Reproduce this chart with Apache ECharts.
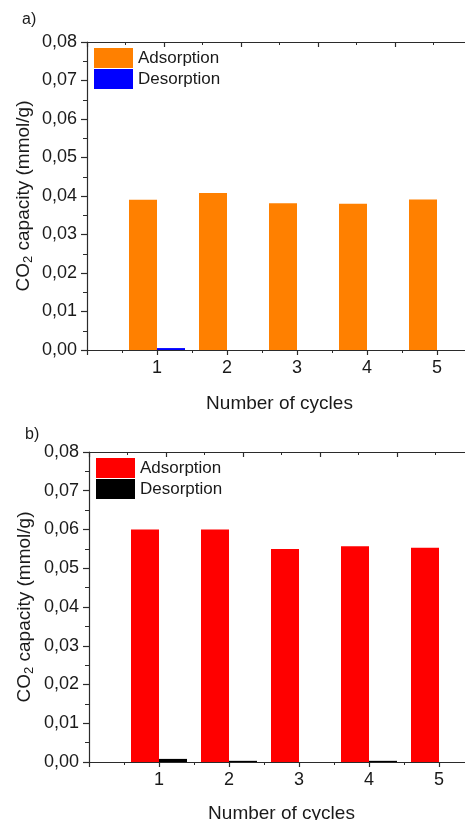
<!DOCTYPE html>
<html>
<head>
<meta charset="utf-8">
<script src="https://cdn.jsdelivr.net/npm/echarts@6/dist/echarts.min.js"></script>
<style>
  html, body { margin: 0; padding: 0; background: #fff; }
  #chart { width: 465px; height: 820px; }
</style>
</head>
<body>
<div id="chart"></div>
<script>
// CO2 capacity over repeated adsorption/desorption cycles, two samples
const cycles = [1, 2, 3, 4, 5];
const adsorptionA = [0.0390, 0.0408, 0.0381, 0.0380, 0.0391];
const desorptionA = [0.0005, 0, 0, 0, 0];
const adsorptionB = [0.0600, 0.0600, 0.0550, 0.0557, 0.0553];
const desorptionB = [0.0008, 0.0003, 0, 0.0003, 0];
const yTicks = [0, 0.08, 0.01];          // min, max, step of the capacity axis
const panelLabels = ['a)', 'b)'];
const seriesNames = ['Adsorption', 'Desorption'];

const FONT = '"Liberation Sans", Arial, sans-serif';
const INK = '#1a1a1a';
const AXIS = '#2b2b2b';

const pairs = (xs, ys) => xs.map((x, i) => [x, ys[i]]);
const commaFmt = v => v.toFixed(2).replace('.', ',');

const panels = [
  { grid: { left: 87, top: 42, width: 385, height: 308 }, colors: ['#FF8000', '#0000FF'], ads: adsorptionA, des: desorptionA, legendTop: 48, legendLeft: 94 },
  { grid: { left: 89, top: 452, width: 385, height: 310 }, colors: ['#FF0000', '#000000'], ads: adsorptionB, des: desorptionB, legendTop: 458, legendLeft: 96 }
];

const option = {
  animation: false,
  backgroundColor: '#fff',
  textStyle: { fontFamily: FONT, color: INK },
  grid: panels.map(p => Object.assign({ containLabel: false, outerBoundsMode: 'none' }, p.grid)),
  legend: panels.map((p, k) => ({
    orient: 'vertical',
    left: p.legendLeft,
    top: p.legendTop,
    itemWidth: 39,
    itemHeight: 20,
    itemGap: 1,
    icon: 'rect',
    data: seriesNames.map(n => n + (k ? '\u200b' : '')),
    formatter: n => n.replace('\u200b', ''),
    textStyle: { fontFamily: FONT, fontSize: 17, color: INK, padding: [0, 0, 0, 0] },
    padding: 0
  })),
  xAxis: [],
  yAxis: [],
  series: [],
  graphic: panelLabels.map((t, k) => ({
    type: 'text',
    left: k ? 25 : 22,
    top: k ? 427 : 12,
    style: { text: t, font: '16px ' + FONT, fill: INK }
  }))
};

panels.forEach((p, k) => {
  // bottom axis: cycle numbers
  option.xAxis.push({
    type: 'value', gridIndex: k, position: 'bottom',
    min: 0, max: 5.5, interval: 1,
    axisLine: { show: true, onZero: false, lineStyle: { color: AXIS, width: 1.2 } },
    axisTick: { show: true, inside: false, length: 5, lineStyle: { color: AXIS, width: 1.2 } },
    minorTick: { show: true, splitNumber: 2, length: 3, lineStyle: { color: AXIS, width: 1 } },
    splitLine: { show: false },
    axisLabel: {
      margin: 9, fontSize: 18, fontFamily: FONT, color: INK,
      formatter: v => (cycles.indexOf(v) >= 0 ? String(v) : '')
    },
    name: 'Number of cycles', nameLocation: 'middle', nameGap: k ? 42 : 44,
    nameMoveOverlap: false,
    nameTextStyle: { fontSize: 19, fontFamily: FONT, color: INK }
  });
  // top frame axis with its own tick spacing
  option.xAxis.push({
    type: 'value', gridIndex: k, position: 'top',
    min: 0, max: 5, interval: 1,
    axisLine: { show: true, onZero: false, lineStyle: { color: AXIS, width: 1.2 } },
    axisTick: { show: true, inside: true, length: 5, lineStyle: { color: AXIS, width: 1.2 } },
    minorTick: { show: true, splitNumber: 2, length: 3, lineStyle: { color: AXIS, width: 1 } },
    splitLine: { show: false },
    axisLabel: { show: false }
  });
  option.yAxis.push({
    type: 'value', gridIndex: k,
    min: yTicks[0], max: yTicks[1], interval: yTicks[2],
    axisLine: { show: true, onZero: false, lineStyle: { color: AXIS, width: 1.2 } },
    axisTick: { show: true, inside: false, length: 6, lineStyle: { color: AXIS, width: 1.2 } },
    minorTick: { show: true, splitNumber: 2, length: 4, lineStyle: { color: AXIS, width: 1 } },
    splitLine: { show: false },
    axisLabel: { margin: 10, fontSize: 18, fontFamily: FONT, color: INK, formatter: commaFmt },
    name: '{a|CO}{s|2}{a| capacity (mmol/g)}',
    nameLocation: 'middle', nameRotate: 90, nameGap: k ? 53 : 52,
    nameMoveOverlap: false,
    nameTextStyle: {
      fontFamily: FONT, color: INK,
      rich: {
        a: { fontSize: 19, fontFamily: FONT, color: INK, lineHeight: 23 },
        s: { fontSize: 13, fontFamily: FONT, color: INK, lineHeight: 13, verticalAlign: 'bottom' }
      }
    }
  });
  const suffix = k ? '\u200b' : '';
  option.series.push({
    type: 'bar', name: seriesNames[0] + suffix,
    xAxisIndex: 2 * k, yAxisIndex: k,
    data: pairs(cycles, p.ads),
    barWidth: 28, barGap: '0%',
    itemStyle: { color: p.colors[0] }
  });
  option.series.push({
    type: 'bar', name: seriesNames[1] + suffix,
    xAxisIndex: 2 * k, yAxisIndex: k,
    data: pairs(cycles, p.des),
    barWidth: 28, barGap: '0%',
    itemStyle: { color: p.colors[1] }
  });
});

const chart = echarts.init(document.getElementById('chart'), null, { renderer: 'canvas' });
chart.setOption(option);
</script>
</body>
</html>
